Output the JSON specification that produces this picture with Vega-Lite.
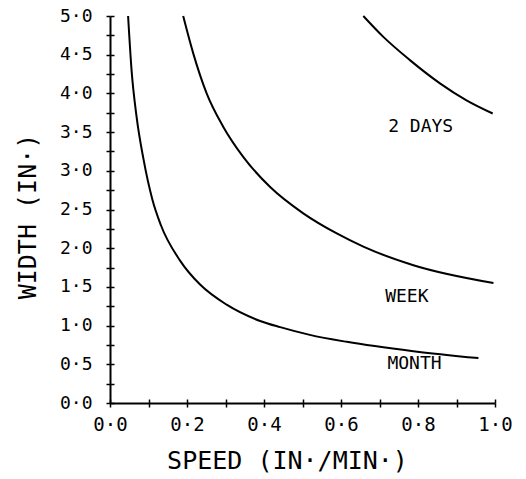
{
  "$schema": "https://vega.github.io/schema/vega-lite/v6.json",
  "width": 385,
  "height": 387,
  "autosize": "none",
  "padding": {"left": 110, "top": 16, "right": 31, "bottom": 76},
  "background": "white",
  "config": {"view": {"stroke": null}},
  "datasets": {
    "curves": [
      {"series": "MONTH", "speed": 0.047, "width": 5.0},
      {"series": "MONTH", "speed": 0.056, "width": 4.3},
      {"series": "MONTH", "speed": 0.069, "width": 3.7},
      {"series": "MONTH", "speed": 0.087, "width": 3.15},
      {"series": "MONTH", "speed": 0.11, "width": 2.63},
      {"series": "MONTH", "speed": 0.132, "width": 2.3},
      {"series": "MONTH", "speed": 0.182, "width": 1.84},
      {"series": "MONTH", "speed": 0.234, "width": 1.53},
      {"series": "MONTH", "speed": 0.303, "width": 1.27},
      {"series": "MONTH", "speed": 0.39, "width": 1.06},
      {"series": "MONTH", "speed": 0.442, "width": 0.98},
      {"series": "MONTH", "speed": 0.519, "width": 0.88},
      {"series": "MONTH", "speed": 0.615, "width": 0.79},
      {"series": "MONTH", "speed": 0.788, "width": 0.67},
      {"series": "MONTH", "speed": 0.957, "width": 0.58},
      {"series": "WEEK", "speed": 0.19, "width": 5.0},
      {"series": "WEEK", "speed": 0.216, "width": 4.52},
      {"series": "WEEK", "speed": 0.251, "width": 4.0},
      {"series": "WEEK", "speed": 0.294, "width": 3.57},
      {"series": "WEEK", "speed": 0.346, "width": 3.18},
      {"series": "WEEK", "speed": 0.416, "width": 2.79},
      {"series": "WEEK", "speed": 0.502, "width": 2.45},
      {"series": "WEEK", "speed": 0.589, "width": 2.19},
      {"series": "WEEK", "speed": 0.658, "width": 2.02},
      {"series": "WEEK", "speed": 0.788, "width": 1.78},
      {"series": "WEEK", "speed": 0.996, "width": 1.55},
      {"series": "2 DAYS", "speed": 0.658, "width": 5.0},
      {"series": "2 DAYS", "speed": 0.71, "width": 4.73},
      {"series": "2 DAYS", "speed": 0.779, "width": 4.43},
      {"series": "2 DAYS", "speed": 0.857, "width": 4.13},
      {"series": "2 DAYS", "speed": 0.926, "width": 3.91},
      {"series": "2 DAYS", "speed": 0.994, "width": 3.74}
    ],
    "labels": [
      {"label": "2 DAYS", "speed": 0.807, "width": 3.56},
      {"label": "WEEK", "speed": 0.771, "width": 1.37},
      {"label": "MONTH", "speed": 0.791, "width": 0.51}
    ]
  },
  "layer": [
    {
      "data": {"name": "curves"},
      "mark": {"type": "line", "color": "black", "strokeWidth": 2, "interpolate": "monotone", "clip": false},
      "encoding": {
        "x": {
          "field": "speed", "type": "quantitative",
          "scale": {"domain": [0, 1], "nice": false, "zero": false},
          "axis": {
            "values": [0, 0.1, 0.2, 0.3, 0.4, 0.5, 0.6, 0.7, 0.8, 0.9, 1.0],
            "grid": false,
            "domainColor": "black", "domainWidth": 2,
            "tickColor": "black", "tickWidth": 1.5, "tickSize": 4,
            "labelExpr": "round(datum.value*10)%2==0 ? replace(format(datum.value,'.1f'),'.','·') : ''",
            "labelFont": "DejaVu Sans Mono", "labelFontSize": 19, "labelColor": "black",
            "labelPadding": 8, "labelFlush": false, "labelOverlap": false,
            "title": "SPEED (IN·/MIN·)",
            "titleFont": "DejaVu Sans Mono", "titleFontSize": 25, "titleFontWeight": "normal", "titleColor": "black",
            "titleX": 177, "titleY": 65, "titleBaseline": "alphabetic", "titleAlign": "center"
          }
        },
        "y": {
          "field": "width", "type": "quantitative",
          "scale": {"domain": [0, 5], "nice": false, "zero": false},
          "axis": {
            "values": [0, 0.25, 0.5, 0.75, 1, 1.25, 1.5, 1.75, 2, 2.25, 2.5, 2.75, 3, 3.25, 3.5, 3.75, 4, 4.25, 4.5, 4.75, 5],
            "grid": false,
            "domainColor": "black", "domainWidth": 2,
            "tickColor": "black", "tickWidth": 1.5, "tickSize": 4,
            "labelExpr": "round(datum.value*4)%2==0 ? replace(format(datum.value,'.1f'),'.','·') : ''",
            "labelFont": "DejaVu Sans Mono", "labelFontSize": 18, "labelColor": "black",
            "labelPadding": 14, "labelFlush": false, "labelOverlap": false,
            "title": "WIDTH (IN·)",
            "titleFont": "DejaVu Sans Mono", "titleFontSize": 25, "titleFontWeight": "normal", "titleColor": "black",
            "titleX": -75, "titleY": 200, "titleBaseline": "alphabetic", "titleAlign": "center", "titleAngle": -90
          }
        },
        "detail": {"field": "series", "type": "nominal"}
      }
    },
    {
      "data": {"name": "labels"},
      "mark": {"type": "text", "font": "DejaVu Sans Mono", "fontSize": 18, "color": "black", "align": "center", "baseline": "middle"},
      "encoding": {
        "x": {
          "field": "speed", "type": "quantitative",
          "scale": {"domain": [0, 1], "nice": false, "zero": false},
          "axis": {
            "orient": "bottom",
            "offset": -4,
            "values": [0, 0.1, 0.2, 0.3, 0.4, 0.5, 0.6, 0.7, 0.8, 0.9, 1.0],
            "grid": false, "domain": false, "labels": false, "title": null,
            "tickColor": "black", "tickWidth": 1.5, "tickSize": 4
          }
        },
        "y": {
          "field": "width", "type": "quantitative",
          "scale": {"domain": [0, 5], "nice": false, "zero": false},
          "axis": {
            "orient": "left",
            "offset": -4,
            "values": [0, 0.25, 0.5, 0.75, 1, 1.25, 1.5, 1.75, 2, 2.25, 2.5, 2.75, 3, 3.25, 3.5, 3.75, 4, 4.25, 4.5, 4.75, 5],
            "grid": false, "domain": false, "labels": false, "title": null,
            "tickColor": "black", "tickWidth": 1.5, "tickSize": 4
          }
        },
        "text": {"field": "label", "type": "nominal"}
      }
    }
  ],
  "resolve": {"scale": {"x": "independent", "y": "independent"}, "axis": {"x": "independent", "y": "independent"}}
}
